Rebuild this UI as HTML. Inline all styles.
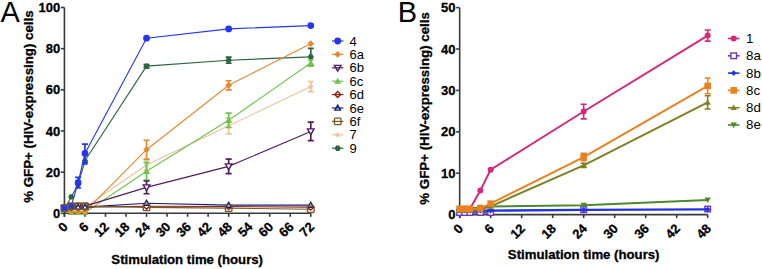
<!DOCTYPE html><html><head><meta charset="utf-8"><style>html,body{margin:0;padding:0;background:#fff;width:762px;height:269px;overflow:hidden}svg{display:block}text{font-family:'Liberation Sans',sans-serif}text[font-weight=bold]{stroke:#000;stroke-width:0.3px}</style></head><body>
<svg width="762" height="269" viewBox="0 0 762 269">
<rect width="762" height="269" fill="#fff"/>
<path d="M64.43 7.50V216.80" stroke="#3a3a3a" stroke-width="1.6" fill="none"/>
<path d="M60.93 213.30H64.43" stroke="#3a3a3a" stroke-width="1.6"/>
<text x="60.23" y="217.90" font-size="13" font-weight="bold" text-anchor="end" fill="#000">0</text>
<path d="M60.93 172.14H64.43" stroke="#3a3a3a" stroke-width="1.6"/>
<text x="60.23" y="176.74" font-size="13" font-weight="bold" text-anchor="end" fill="#000">20</text>
<path d="M60.93 130.98H64.43" stroke="#3a3a3a" stroke-width="1.6"/>
<text x="60.23" y="135.58" font-size="13" font-weight="bold" text-anchor="end" fill="#000">40</text>
<path d="M60.93 89.82H64.43" stroke="#3a3a3a" stroke-width="1.6"/>
<text x="60.23" y="94.42" font-size="13" font-weight="bold" text-anchor="end" fill="#000">60</text>
<path d="M60.93 48.66H64.43" stroke="#3a3a3a" stroke-width="1.6"/>
<text x="60.23" y="53.26" font-size="13" font-weight="bold" text-anchor="end" fill="#000">80</text>
<path d="M60.93 7.50H64.43" stroke="#3a3a3a" stroke-width="1.6"/>
<text x="60.23" y="12.10" font-size="13" font-weight="bold" text-anchor="end" fill="#000">100</text>
<path d="M64.43 213.30H310.78" stroke="#3a3a3a" stroke-width="1.6" fill="none"/>
<path d="M64.43 213.30V216.80" stroke="#3a3a3a" stroke-width="1.6"/>
<text transform="translate(68.73,227.60) rotate(-45)" font-size="13" font-weight="bold" text-anchor="end" fill="#000">0</text>
<path d="M84.96 213.30V216.80" stroke="#3a3a3a" stroke-width="1.6"/>
<text transform="translate(89.26,227.60) rotate(-45)" font-size="13" font-weight="bold" text-anchor="end" fill="#000">6</text>
<path d="M105.49 213.30V216.80" stroke="#3a3a3a" stroke-width="1.6"/>
<text transform="translate(109.79,227.60) rotate(-45)" font-size="13" font-weight="bold" text-anchor="end" fill="#000">12</text>
<path d="M126.02 213.30V216.80" stroke="#3a3a3a" stroke-width="1.6"/>
<text transform="translate(130.32,227.60) rotate(-45)" font-size="13" font-weight="bold" text-anchor="end" fill="#000">18</text>
<path d="M146.55 213.30V216.80" stroke="#3a3a3a" stroke-width="1.6"/>
<text transform="translate(150.85,227.60) rotate(-45)" font-size="13" font-weight="bold" text-anchor="end" fill="#000">24</text>
<path d="M167.07 213.30V216.80" stroke="#3a3a3a" stroke-width="1.6"/>
<text transform="translate(171.38,227.60) rotate(-45)" font-size="13" font-weight="bold" text-anchor="end" fill="#000">30</text>
<path d="M187.60 213.30V216.80" stroke="#3a3a3a" stroke-width="1.6"/>
<text transform="translate(191.90,227.60) rotate(-45)" font-size="13" font-weight="bold" text-anchor="end" fill="#000">36</text>
<path d="M208.13 213.30V216.80" stroke="#3a3a3a" stroke-width="1.6"/>
<text transform="translate(212.43,227.60) rotate(-45)" font-size="13" font-weight="bold" text-anchor="end" fill="#000">42</text>
<path d="M228.66 213.30V216.80" stroke="#3a3a3a" stroke-width="1.6"/>
<text transform="translate(232.96,227.60) rotate(-45)" font-size="13" font-weight="bold" text-anchor="end" fill="#000">48</text>
<path d="M249.19 213.30V216.80" stroke="#3a3a3a" stroke-width="1.6"/>
<text transform="translate(253.49,227.60) rotate(-45)" font-size="13" font-weight="bold" text-anchor="end" fill="#000">54</text>
<path d="M269.72 213.30V216.80" stroke="#3a3a3a" stroke-width="1.6"/>
<text transform="translate(274.02,227.60) rotate(-45)" font-size="13" font-weight="bold" text-anchor="end" fill="#000">60</text>
<path d="M290.25 213.30V216.80" stroke="#3a3a3a" stroke-width="1.6"/>
<text transform="translate(294.55,227.60) rotate(-45)" font-size="13" font-weight="bold" text-anchor="end" fill="#000">66</text>
<path d="M310.78 213.30V216.80" stroke="#3a3a3a" stroke-width="1.6"/>
<text transform="translate(315.08,227.60) rotate(-45)" font-size="13" font-weight="bold" text-anchor="end" fill="#000">72</text>
<text x="187.2" y="263.6" font-size="13.2" font-weight="bold" text-anchor="middle" fill="#000">Stimulation time (hours)</text>
<text transform="translate(33.3,106.6) rotate(-90)" font-size="13.3" font-weight="bold" text-anchor="middle" fill="#000">% GFP+ (HIV-expressing) cells</text>
<text x="0.5" y="21.7" font-size="29" fill="#000">A</text>
<polyline points="64.43,209.18 71.27,196.84 78.12,184.49 84.96,160.82 146.55,66.15 228.66,60.18 310.78,56.89" fill="none" stroke="#2d6541" stroke-width="1.1"/>
<polyline points="64.43,209.18 71.27,208.16 78.12,208.16 84.96,207.13 146.55,164.94 228.66,125.83 310.78,86.53" fill="none" stroke="#eac49c" stroke-width="1.1"/>
<polyline points="64.43,208.16 71.27,212.37 78.12,212.37 84.96,212.37 146.55,171.32 228.66,120.28 310.78,63.07" fill="none" stroke="#6cc44a" stroke-width="1.1"/>
<polyline points="64.43,208.16 71.27,211.69 78.12,211.69 84.96,211.69 146.55,149.71 228.66,85.29 310.78,43.72" fill="none" stroke="#e3892f" stroke-width="1.1"/>
<polyline points="64.43,208.16 71.27,207.13 78.12,207.13 84.96,207.13 146.55,206.30 228.66,206.51 310.78,207.13" fill="none" stroke="#8e2016" stroke-width="1.1"/>
<polyline points="64.43,208.16 71.27,206.10 78.12,206.10 84.96,206.10 146.55,187.37 228.66,166.38 310.78,131.39" fill="none" stroke="#4f1c60" stroke-width="1.1"/>
<polyline points="64.43,208.16 71.27,207.13 78.12,207.13 84.96,207.13 146.55,203.22 228.66,205.17 310.78,205.17" fill="none" stroke="#1a2070" stroke-width="1.1"/>
<polyline points="64.43,207.54 71.27,206.10 78.12,182.64 84.96,153.41 146.55,38.16 228.66,28.90 310.78,25.61" fill="none" stroke="#2536ec" stroke-width="1.1"/>
<polyline points="64.43,207.95 71.27,206.20 78.12,206.20 84.96,206.20 146.55,207.33 228.66,208.16 310.78,209.18" fill="none" stroke="#785a24" stroke-width="1.1"/>
<path d="M146.55 64.51V67.80M143.55 64.51H149.55M143.55 67.80H149.55" stroke="#2d6541" stroke-width="1.7" fill="none"/>
<path d="M228.66 57.10V63.27M225.66 57.10H231.66M225.66 63.27H231.66" stroke="#2d6541" stroke-width="1.7" fill="none"/>
<path d="M310.78 48.45V65.33M307.78 48.45H313.78M307.78 65.33H313.78" stroke="#2d6541" stroke-width="1.7" fill="none"/>
<polygon points="67.53,209.18 65.98,211.87 62.88,211.87 61.33,209.18 62.88,206.50 65.98,206.50" fill="#2d6541"/>
<polygon points="74.37,196.84 72.82,199.52 69.72,199.52 68.17,196.84 69.72,194.15 72.82,194.15" fill="#2d6541"/>
<polygon points="81.22,184.49 79.67,187.17 76.57,187.17 75.02,184.49 76.57,181.80 79.67,181.80" fill="#2d6541"/>
<polygon points="88.06,160.82 86.51,163.51 83.41,163.51 81.86,160.82 83.41,158.14 86.51,158.14" fill="#2d6541"/>
<polygon points="149.65,66.15 148.10,68.84 145.00,68.84 143.45,66.15 145.00,63.47 148.10,63.47" fill="#2d6541"/>
<polygon points="231.76,60.18 230.21,62.87 227.11,62.87 225.56,60.18 227.11,57.50 230.21,57.50" fill="#2d6541"/>
<polygon points="313.88,56.89 312.33,59.58 309.23,59.58 307.68,56.89 309.23,54.21 312.33,54.21" fill="#2d6541"/>
<path d="M146.55 159.79V170.08M143.55 159.79H149.55M143.55 170.08H149.55" stroke="#eac49c" stroke-width="1.7" fill="none"/>
<path d="M228.66 117.81V133.86M225.66 117.81H231.66M225.66 133.86H231.66" stroke="#eac49c" stroke-width="1.7" fill="none"/>
<path d="M310.78 81.49V91.57M307.78 81.49H313.78M307.78 91.57H313.78" stroke="#eac49c" stroke-width="1.7" fill="none"/>
<polygon points="64.43,205.78 65.33,207.95 67.66,208.13 65.89,209.66 66.43,211.93 64.43,210.71 62.43,211.93 62.97,209.66 61.20,208.13 63.53,207.95" fill="#eac49c"/>
<polygon points="71.27,204.75 72.17,206.92 74.51,207.10 72.73,208.63 73.27,210.91 71.27,209.69 69.27,210.91 69.82,208.63 68.04,207.10 70.37,206.92" fill="#eac49c"/>
<polygon points="78.12,204.75 79.02,206.92 81.35,207.10 79.57,208.63 80.11,210.91 78.12,209.69 76.12,210.91 76.66,208.63 74.88,207.10 77.22,206.92" fill="#eac49c"/>
<polygon points="84.96,203.73 85.86,205.89 88.19,206.08 86.41,207.60 86.96,209.88 84.96,208.66 82.96,209.88 83.50,207.60 81.73,206.08 84.06,205.89" fill="#eac49c"/>
<polygon points="146.55,161.54 147.45,163.70 149.78,163.89 148.00,165.41 148.54,167.69 146.55,166.47 144.55,167.69 145.09,165.41 143.31,163.89 145.65,163.70" fill="#eac49c"/>
<polygon points="228.66,122.43 229.56,124.60 231.90,124.78 230.12,126.31 230.66,128.59 228.66,127.36 226.66,128.59 227.21,126.31 225.43,124.78 227.76,124.60" fill="#eac49c"/>
<polygon points="310.78,83.13 311.68,85.29 314.01,85.48 312.23,87.00 312.78,89.28 310.78,88.06 308.78,89.28 309.32,87.00 307.54,85.48 309.88,85.29" fill="#eac49c"/>
<path d="M146.55 162.47V180.17M143.55 162.47H149.55M143.55 180.17H149.55" stroke="#6cc44a" stroke-width="1.7" fill="none"/>
<path d="M228.66 113.08V127.48M225.66 113.08H231.66M225.66 127.48H231.66" stroke="#6cc44a" stroke-width="1.7" fill="none"/>
<path d="M310.78 59.98V66.15M307.78 59.98H313.78M307.78 66.15H313.78" stroke="#6cc44a" stroke-width="1.7" fill="none"/>
<polygon points="64.43,204.66 67.93,210.78 60.93,210.78" fill="#6cc44a"/>
<polygon points="71.27,208.87 74.77,215.00 67.77,215.00" fill="#6cc44a"/>
<polygon points="78.12,208.87 81.62,215.00 74.62,215.00" fill="#6cc44a"/>
<polygon points="84.96,208.87 88.46,215.00 81.46,215.00" fill="#6cc44a"/>
<polygon points="146.55,167.82 150.05,173.94 143.05,173.94" fill="#6cc44a"/>
<polygon points="228.66,116.78 232.16,122.90 225.16,122.90" fill="#6cc44a"/>
<polygon points="310.78,59.57 314.28,65.69 307.28,65.69" fill="#6cc44a"/>
<path d="M146.55 140.24V159.17M143.55 140.24H149.55M143.55 159.17H149.55" stroke="#e3892f" stroke-width="1.7" fill="none"/>
<path d="M228.66 80.76V89.82M225.66 80.76H231.66M225.66 89.82H231.66" stroke="#e3892f" stroke-width="1.7" fill="none"/>
<polygon points="64.43,204.75 67.83,208.16 64.43,211.56 61.03,208.16" fill="#e3892f"/>
<polygon points="71.27,208.29 74.67,211.69 71.27,215.09 67.87,211.69" fill="#e3892f"/>
<polygon points="78.12,208.29 81.52,211.69 78.12,215.09 74.72,211.69" fill="#e3892f"/>
<polygon points="84.96,208.29 88.36,211.69 84.96,215.09 81.56,211.69" fill="#e3892f"/>
<polygon points="146.55,146.31 149.95,149.71 146.55,153.11 143.15,149.71" fill="#e3892f"/>
<polygon points="228.66,81.89 232.06,85.29 228.66,88.69 225.26,85.29" fill="#e3892f"/>
<polygon points="310.78,40.32 314.18,43.72 310.78,47.12 307.38,43.72" fill="#e3892f"/>
<polygon points="64.43,205.16 67.43,208.16 64.43,211.16 61.43,208.16" fill="#fff" stroke="#8e2016" stroke-width="1.4"/>
<polygon points="71.27,204.13 74.27,207.13 71.27,210.13 68.27,207.13" fill="#fff" stroke="#8e2016" stroke-width="1.4"/>
<polygon points="78.12,204.13 81.12,207.13 78.12,210.13 75.12,207.13" fill="#fff" stroke="#8e2016" stroke-width="1.4"/>
<polygon points="84.96,204.13 87.96,207.13 84.96,210.13 81.96,207.13" fill="#fff" stroke="#8e2016" stroke-width="1.4"/>
<polygon points="146.55,203.30 149.55,206.30 146.55,209.30 143.55,206.30" fill="#fff" stroke="#8e2016" stroke-width="1.4"/>
<polygon points="228.66,203.51 231.66,206.51 228.66,209.51 225.66,206.51" fill="#fff" stroke="#8e2016" stroke-width="1.4"/>
<polygon points="310.78,204.13 313.78,207.13 310.78,210.13 307.78,207.13" fill="#fff" stroke="#8e2016" stroke-width="1.4"/>
<path d="M146.55 180.99V193.75M143.55 180.99H149.55M143.55 193.75H149.55" stroke="#4f1c60" stroke-width="1.7" fill="none"/>
<path d="M228.66 159.17V173.58M225.66 159.17H231.66M225.66 173.58H231.66" stroke="#4f1c60" stroke-width="1.7" fill="none"/>
<path d="M310.78 122.13V140.65M307.78 122.13H313.78M307.78 140.65H313.78" stroke="#4f1c60" stroke-width="1.7" fill="none"/>
<polygon points="64.43,211.46 67.73,205.68 61.13,205.68" fill="#fff" stroke="#4f1c60" stroke-width="1.4"/>
<polygon points="71.27,209.40 74.57,203.62 67.97,203.62" fill="#fff" stroke="#4f1c60" stroke-width="1.4"/>
<polygon points="78.12,209.40 81.42,203.62 74.82,203.62" fill="#fff" stroke="#4f1c60" stroke-width="1.4"/>
<polygon points="84.96,209.40 88.26,203.62 81.66,203.62" fill="#fff" stroke="#4f1c60" stroke-width="1.4"/>
<polygon points="146.55,190.67 149.85,184.89 143.25,184.89" fill="#fff" stroke="#4f1c60" stroke-width="1.4"/>
<polygon points="228.66,169.68 231.96,163.90 225.36,163.90" fill="#fff" stroke="#4f1c60" stroke-width="1.4"/>
<polygon points="310.78,134.69 314.08,128.92 307.48,128.92" fill="#fff" stroke="#4f1c60" stroke-width="1.4"/>
<polygon points="64.43,205.35 67.23,210.25 61.63,210.25" fill="#fff" stroke="#1a2070" stroke-width="1.4"/>
<polygon points="71.27,204.33 74.07,209.23 68.47,209.23" fill="#fff" stroke="#1a2070" stroke-width="1.4"/>
<polygon points="78.12,204.33 80.92,209.23 75.32,209.23" fill="#fff" stroke="#1a2070" stroke-width="1.4"/>
<polygon points="84.96,204.33 87.76,209.23 82.16,209.23" fill="#fff" stroke="#1a2070" stroke-width="1.4"/>
<polygon points="146.55,200.42 149.35,205.32 143.75,205.32" fill="#fff" stroke="#1a2070" stroke-width="1.4"/>
<polygon points="228.66,202.37 231.46,207.27 225.86,207.27" fill="#fff" stroke="#1a2070" stroke-width="1.4"/>
<polygon points="310.78,202.37 313.58,207.27 307.98,207.27" fill="#fff" stroke="#1a2070" stroke-width="1.4"/>
<path d="M78.12 177.28V187.99M75.12 177.28H81.12M75.12 187.99H81.12" stroke="#2536ec" stroke-width="1.7" fill="none"/>
<path d="M84.96 144.15V162.67M81.96 144.15H87.96M81.96 162.67H87.96" stroke="#2536ec" stroke-width="1.7" fill="none"/>
<circle cx="64.43" cy="207.54" r="3.40" fill="#2536ec"/>
<circle cx="71.27" cy="206.10" r="3.40" fill="#2536ec"/>
<circle cx="78.12" cy="182.64" r="3.40" fill="#2536ec"/>
<circle cx="84.96" cy="153.41" r="3.40" fill="#2536ec"/>
<circle cx="146.55" cy="38.16" r="3.40" fill="#2536ec"/>
<circle cx="228.66" cy="28.90" r="3.40" fill="#2536ec"/>
<circle cx="310.78" cy="25.61" r="3.40" fill="#2536ec"/>
<polygon points="84.76,159.15 87.96,164.75 81.56,164.75" fill="#2536ec"/>
<rect x="61.18" y="204.70" width="6.50" height="6.50" rx="0.8" fill="none" stroke="#785a24" stroke-width="1.4"/>
<rect x="68.02" y="202.95" width="6.50" height="6.50" rx="0.8" fill="none" stroke="#785a24" stroke-width="1.4"/>
<rect x="74.87" y="202.95" width="6.50" height="6.50" rx="0.8" fill="none" stroke="#785a24" stroke-width="1.4"/>
<rect x="81.71" y="202.95" width="6.50" height="6.50" rx="0.8" fill="none" stroke="#785a24" stroke-width="1.4"/>
<rect x="143.30" y="204.08" width="6.50" height="6.50" rx="0.8" fill="none" stroke="#785a24" stroke-width="1.4"/>
<rect x="225.41" y="204.91" width="6.50" height="6.50" rx="0.8" fill="none" stroke="#785a24" stroke-width="1.4"/>
<rect x="307.53" y="205.93" width="6.50" height="6.50" rx="0.8" fill="none" stroke="#785a24" stroke-width="1.4"/>
<path d="M332 41.00H343.4" stroke="#2536ec" stroke-width="1.2"/>
<circle cx="337.70" cy="41.00" r="3.40" fill="#2536ec"/>
<text x="349.5" y="45.60" font-size="13" fill="#000">4</text>
<path d="M332 54.40H343.4" stroke="#e3892f" stroke-width="1.2"/>
<polygon points="337.70,51.00 341.10,54.40 337.70,57.80 334.30,54.40" fill="#e3892f"/>
<text x="349.5" y="59.00" font-size="13" fill="#000">6a</text>
<path d="M332 67.80H343.4" stroke="#4f1c60" stroke-width="1.2"/>
<polygon points="337.70,71.10 341.00,65.33 334.40,65.33" fill="none" stroke="#4f1c60" stroke-width="1.4"/>
<text x="349.5" y="72.40" font-size="13" fill="#000">6b</text>
<path d="M332 81.20H343.4" stroke="#6cc44a" stroke-width="1.2"/>
<polygon points="337.70,77.70 341.20,83.83 334.20,83.83" fill="#6cc44a"/>
<text x="349.5" y="85.80" font-size="13" fill="#000">6c</text>
<path d="M332 94.60H343.4" stroke="#8e2016" stroke-width="1.2"/>
<polygon points="337.70,91.60 340.70,94.60 337.70,97.60 334.70,94.60" fill="none" stroke="#8e2016" stroke-width="1.4"/>
<text x="349.5" y="99.20" font-size="13" fill="#000">6d</text>
<path d="M332 108.00H343.4" stroke="#1a2070" stroke-width="1.2"/>
<polygon points="337.70,105.20 340.50,110.10 334.90,110.10" fill="none" stroke="#1a2070" stroke-width="1.4"/>
<text x="349.5" y="112.60" font-size="13" fill="#000">6e</text>
<path d="M332 121.40H343.4" stroke="#785a24" stroke-width="1.2"/>
<rect x="334.45" y="118.15" width="6.50" height="6.50" rx="0.8" fill="none" stroke="#785a24" stroke-width="1.4"/>
<text x="349.5" y="126.00" font-size="13" fill="#000">6f</text>
<path d="M332 134.80H343.4" stroke="#eac49c" stroke-width="1.2"/>
<polygon points="337.70,131.40 338.60,133.56 340.93,133.75 339.16,135.27 339.70,137.55 337.70,136.33 335.70,137.55 336.24,135.27 334.47,133.75 336.80,133.56" fill="#eac49c"/>
<text x="349.5" y="139.40" font-size="13" fill="#000">7</text>
<path d="M332 148.20H343.4" stroke="#2d6541" stroke-width="1.2"/>
<polygon points="340.80,148.20 339.25,150.88 336.15,150.88 334.60,148.20 336.15,145.52 339.25,145.52" fill="#2d6541"/>
<text x="349.5" y="152.80" font-size="13" fill="#000">9</text>
<path d="M459.66 7.60V218.10" stroke="#3a3a3a" stroke-width="1.6" fill="none"/>
<path d="M456.16 214.60H459.66" stroke="#3a3a3a" stroke-width="1.6"/>
<text x="455.46" y="219.20" font-size="13" font-weight="bold" text-anchor="end" fill="#000">0</text>
<path d="M456.16 173.20H459.66" stroke="#3a3a3a" stroke-width="1.6"/>
<text x="455.46" y="177.80" font-size="13" font-weight="bold" text-anchor="end" fill="#000">10</text>
<path d="M456.16 131.80H459.66" stroke="#3a3a3a" stroke-width="1.6"/>
<text x="455.46" y="136.40" font-size="13" font-weight="bold" text-anchor="end" fill="#000">20</text>
<path d="M456.16 90.40H459.66" stroke="#3a3a3a" stroke-width="1.6"/>
<text x="455.46" y="95.00" font-size="13" font-weight="bold" text-anchor="end" fill="#000">30</text>
<path d="M456.16 49.00H459.66" stroke="#3a3a3a" stroke-width="1.6"/>
<text x="455.46" y="53.60" font-size="13" font-weight="bold" text-anchor="end" fill="#000">40</text>
<path d="M456.16 7.60H459.66" stroke="#3a3a3a" stroke-width="1.6"/>
<text x="455.46" y="12.20" font-size="13" font-weight="bold" text-anchor="end" fill="#000">50</text>
<path d="M459.66 214.60H707.69" stroke="#3a3a3a" stroke-width="1.6" fill="none"/>
<path d="M459.66 214.60V218.10" stroke="#3a3a3a" stroke-width="1.6"/>
<text transform="translate(463.86,229.30) rotate(-45)" font-size="13" font-weight="bold" text-anchor="end" fill="#000">0</text>
<path d="M490.66 214.60V218.10" stroke="#3a3a3a" stroke-width="1.6"/>
<text transform="translate(494.86,229.30) rotate(-45)" font-size="13" font-weight="bold" text-anchor="end" fill="#000">6</text>
<path d="M521.67 214.60V218.10" stroke="#3a3a3a" stroke-width="1.6"/>
<text transform="translate(525.87,229.30) rotate(-45)" font-size="13" font-weight="bold" text-anchor="end" fill="#000">12</text>
<path d="M552.67 214.60V218.10" stroke="#3a3a3a" stroke-width="1.6"/>
<text transform="translate(556.87,229.30) rotate(-45)" font-size="13" font-weight="bold" text-anchor="end" fill="#000">18</text>
<path d="M583.67 214.60V218.10" stroke="#3a3a3a" stroke-width="1.6"/>
<text transform="translate(587.87,229.30) rotate(-45)" font-size="13" font-weight="bold" text-anchor="end" fill="#000">24</text>
<path d="M614.68 214.60V218.10" stroke="#3a3a3a" stroke-width="1.6"/>
<text transform="translate(618.88,229.30) rotate(-45)" font-size="13" font-weight="bold" text-anchor="end" fill="#000">30</text>
<path d="M645.68 214.60V218.10" stroke="#3a3a3a" stroke-width="1.6"/>
<text transform="translate(649.88,229.30) rotate(-45)" font-size="13" font-weight="bold" text-anchor="end" fill="#000">36</text>
<path d="M676.68 214.60V218.10" stroke="#3a3a3a" stroke-width="1.6"/>
<text transform="translate(680.88,229.30) rotate(-45)" font-size="13" font-weight="bold" text-anchor="end" fill="#000">42</text>
<path d="M707.69 214.60V218.10" stroke="#3a3a3a" stroke-width="1.6"/>
<text transform="translate(711.89,229.30) rotate(-45)" font-size="13" font-weight="bold" text-anchor="end" fill="#000">48</text>
<text x="583.7" y="259.3" font-size="13.2" font-weight="bold" text-anchor="middle" fill="#000">Stimulation time (hours)</text>
<text transform="translate(428.5,108.4) rotate(-90)" font-size="13.3" font-weight="bold" text-anchor="middle" fill="#000">% GFP+ (HIV-expressing) cells</text>
<text x="397.8" y="21.9" font-size="29" fill="#000">B</text>
<polyline points="459.66,208.80 464.83,208.80 469.99,208.80 480.33,190.59 490.66,169.68 583.67,111.51 707.69,35.55" fill="none" stroke="#d2297b" stroke-width="2.0"/>
<path d="M583.67 104.19V118.84M580.67 104.19H586.67M580.67 118.84H586.67" stroke="#d2297b" stroke-width="1.6" fill="none"/>
<path d="M707.69 30.00V41.09M704.69 30.00H710.69M704.69 41.09H710.69" stroke="#d2297b" stroke-width="1.6" fill="none"/>
<circle cx="459.66" cy="208.80" r="3.00" fill="#d2297b"/>
<circle cx="464.83" cy="208.80" r="3.00" fill="#d2297b"/>
<circle cx="469.99" cy="208.80" r="3.00" fill="#d2297b"/>
<circle cx="480.33" cy="190.59" r="3.00" fill="#d2297b"/>
<circle cx="490.66" cy="169.68" r="3.00" fill="#d2297b"/>
<circle cx="583.67" cy="111.51" r="3.00" fill="#d2297b"/>
<circle cx="707.69" cy="35.55" r="3.00" fill="#d2297b"/>
<polyline points="459.66,212.53 464.83,212.53 469.99,212.53 480.33,212.53 490.66,212.53" fill="none" stroke="#6a38b8" stroke-width="2.0"/>
<rect x="456.86" y="209.73" width="5.60" height="5.60" fill="#fff" stroke="#6a38b8" stroke-width="1.4"/>
<rect x="462.03" y="209.73" width="5.60" height="5.60" fill="#fff" stroke="#6a38b8" stroke-width="1.4"/>
<rect x="467.19" y="209.73" width="5.60" height="5.60" fill="#fff" stroke="#6a38b8" stroke-width="1.4"/>
<rect x="477.53" y="209.73" width="5.60" height="5.60" fill="#fff" stroke="#6a38b8" stroke-width="1.4"/>
<rect x="487.86" y="209.73" width="5.60" height="5.60" fill="#fff" stroke="#6a38b8" stroke-width="1.4"/>
<rect x="580.87" y="206.83" width="5.60" height="5.60" fill="#fff" stroke="#6a38b8" stroke-width="1.4"/>
<rect x="704.89" y="206.21" width="5.60" height="5.60" fill="#fff" stroke="#6a38b8" stroke-width="1.4"/>
<polyline points="459.66,210.67 464.83,210.67 469.99,210.67 480.33,210.67 490.66,210.67 583.67,209.84 707.69,209.42" fill="none" stroke="#2233e4" stroke-width="2.4"/>
<polygon points="459.66,207.87 462.46,210.67 459.66,213.47 456.86,210.67" fill="#2233e4"/>
<polygon points="464.83,207.87 467.63,210.67 464.83,213.47 462.03,210.67" fill="#2233e4"/>
<polygon points="469.99,207.87 472.79,210.67 469.99,213.47 467.19,210.67" fill="#2233e4"/>
<polygon points="480.33,207.87 483.13,210.67 480.33,213.47 477.53,210.67" fill="#2233e4"/>
<polygon points="490.66,207.87 493.46,210.67 490.66,213.47 487.86,210.67" fill="#2233e4"/>
<polygon points="583.67,207.04 586.47,209.84 583.67,212.64 580.87,209.84" fill="#2233e4"/>
<polygon points="707.69,206.62 710.49,209.42 707.69,212.22 704.89,209.42" fill="#2233e4"/>
<polyline points="459.66,208.39 464.83,208.39 469.99,208.39 480.33,207.15 490.66,206.61 583.67,205.20 707.69,199.90" fill="none" stroke="#4a8a2a" stroke-width="2.0"/>
<polygon points="459.66,211.59 462.86,205.99 456.46,205.99" fill="#4a8a2a"/>
<polygon points="464.83,211.59 468.03,205.99 461.63,205.99" fill="#4a8a2a"/>
<polygon points="469.99,211.59 473.19,205.99 466.79,205.99" fill="#4a8a2a"/>
<polygon points="480.33,210.35 483.53,204.75 477.13,204.75" fill="#4a8a2a"/>
<polygon points="490.66,209.81 493.86,204.21 487.46,204.21" fill="#4a8a2a"/>
<polygon points="583.67,208.40 586.87,202.80 580.47,202.80" fill="#4a8a2a"/>
<polygon points="707.69,203.10 710.89,197.50 704.49,197.50" fill="#4a8a2a"/>
<polyline points="459.66,210.46 464.83,210.46 469.99,210.46 480.33,209.63 490.66,206.32 583.67,165.33 707.69,102.41" fill="none" stroke="#817f24" stroke-width="2.0"/>
<path d="M583.67 163.26V167.40M580.67 163.26H586.67M580.67 167.40H586.67" stroke="#817f24" stroke-width="1.6" fill="none"/>
<path d="M707.69 95.78V109.03M704.69 95.78H710.69M704.69 109.03H710.69" stroke="#817f24" stroke-width="1.6" fill="none"/>
<polygon points="459.66,207.26 462.86,212.86 456.46,212.86" fill="#817f24"/>
<polygon points="464.83,207.26 468.03,212.86 461.63,212.86" fill="#817f24"/>
<polygon points="469.99,207.26 473.19,212.86 466.79,212.86" fill="#817f24"/>
<polygon points="480.33,206.43 483.53,212.03 477.13,212.03" fill="#817f24"/>
<polygon points="490.66,203.12 493.86,208.72 487.46,208.72" fill="#817f24"/>
<polygon points="583.67,162.13 586.87,167.73 580.47,167.73" fill="#817f24"/>
<polygon points="707.69,99.21 710.89,104.81 704.49,104.81" fill="#817f24"/>
<polyline points="459.66,208.80 464.83,208.80 469.99,208.80 480.33,208.39 490.66,203.63 583.67,157.05 707.69,85.85" fill="none" stroke="#e8811f" stroke-width="2.0"/>
<path d="M583.67 153.33V160.78M580.67 153.33H586.67M580.67 160.78H586.67" stroke="#e8811f" stroke-width="1.6" fill="none"/>
<path d="M707.69 77.98V93.71M704.69 77.98H710.69M704.69 93.71H710.69" stroke="#e8811f" stroke-width="1.6" fill="none"/>
<rect x="456.36" y="205.50" width="6.60" height="6.60" fill="#e8811f"/>
<rect x="461.53" y="205.50" width="6.60" height="6.60" fill="#e8811f"/>
<rect x="466.69" y="205.50" width="6.60" height="6.60" fill="#e8811f"/>
<rect x="477.03" y="205.09" width="6.60" height="6.60" fill="#e8811f"/>
<rect x="487.36" y="200.33" width="6.60" height="6.60" fill="#e8811f"/>
<rect x="580.37" y="153.75" width="6.60" height="6.60" fill="#e8811f"/>
<rect x="704.39" y="82.55" width="6.60" height="6.60" fill="#e8811f"/>
<path d="M728 38.50H739.5" stroke="#d2297b" stroke-width="1.6"/>
<circle cx="733.70" cy="38.50" r="3.00" fill="#d2297b"/>
<text x="746" y="42.90" font-size="13.3" fill="#000">1</text>
<path d="M728 55.80H739.5" stroke="#6a38b8" stroke-width="1.6"/>
<rect x="730.90" y="53.00" width="5.60" height="5.60" fill="#fff" stroke="#6a38b8" stroke-width="1.4"/>
<text x="746" y="60.20" font-size="13.3" fill="#000">8a</text>
<path d="M728 73.10H739.5" stroke="#2233e4" stroke-width="1.6"/>
<polygon points="733.70,70.30 736.50,73.10 733.70,75.90 730.90,73.10" fill="#2233e4"/>
<text x="746" y="77.50" font-size="13.3" fill="#000">8b</text>
<path d="M728 90.40H739.5" stroke="#e8811f" stroke-width="1.6"/>
<rect x="730.40" y="87.10" width="6.60" height="6.60" fill="#e8811f"/>
<text x="746" y="94.80" font-size="13.3" fill="#000">8c</text>
<path d="M728 107.70H739.5" stroke="#817f24" stroke-width="1.6"/>
<polygon points="733.70,104.50 736.90,110.10 730.50,110.10" fill="#817f24"/>
<text x="746" y="112.10" font-size="13.3" fill="#000">8d</text>
<path d="M728 125.00H739.5" stroke="#4a8a2a" stroke-width="1.6"/>
<polygon points="733.70,128.20 736.90,122.60 730.50,122.60" fill="#4a8a2a"/>
<text x="746" y="129.40" font-size="13.3" fill="#000">8e</text>
</svg></body></html>
